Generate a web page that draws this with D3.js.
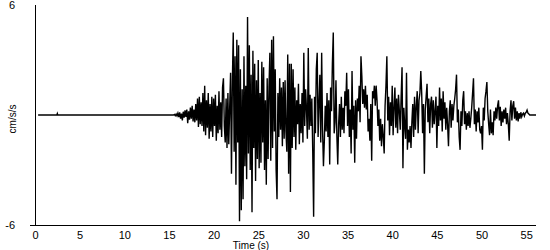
<!DOCTYPE html>
<html>
<head>
<meta charset="utf-8">
<script src="https://cdn.jsdelivr.net/npm/d3@7"></script>
<style>
  body { margin: 0; background: #fff; }
  text { font-family: Arial, "Liberation Sans", sans-serif; fill: #000; }
</style>
</head>
<body>
<div class="canvas"></div>
<script>
// quiet part of the record before the shaking starts
const quietTime = [0.35, 2.45, 2.5, 2.55, 15.4];
const quietAccel = [0, 0, 0.08, 0, 0];

// strong motion, one value every dt seconds from t0
const t0 = 15.5;
const dt = 0.1;
const accel = [
  0, 0.03, -0.04, 0.05, -0.05,
  0.1, -0.12, 0.15, -0.2, 0.08, -0.3, 0.18, -0.15, 0.25, -0.1,
  0.3, -0.45, 0.2, -0.25, 0.4, -0.2, 0.5, -0.35, 0.3, -0.4,
  0.6, -0.3, 0.9, -0.65, 1.0, -0.5, 0.7, -0.6, 1.2, -0.9,
  1.6, -1.1, 0.8, -0.7, 1.2, -1.3, 0.6, -0.9, 1.0, -1.2,
  0.9, -0.6, 1.1, -1.4, 0.5, -1.0, 1.3, -0.8, 0.7, -1.2,
  1.5, 2.0, -0.6, -1.5, 0.9, -1.8, 1.2, -1.6, 0.4, 2.3,
  -3.2, 1.8, 4.5, -2.0, 3.2, -3.8, 4.1, -1.5, 3.8, -5.8,
  2.5, -5.2, 1.4, -4.6, 3.2, -2.8, 1.6, -3.5, 5.35, -2.1,
  3.8, -3.0, 2.2, -5.3, 3.5, -1.8, 2.8, -3.6, 1.9, -2.4,
  3.0, -2.9, 1.2, -2.6, 2.9, -1.5, 2.6, -3.0, 0.8, -3.8,
  2.0, -2.4, 1.5, 3.4, -2.5, 4.1, -1.8, 4.3, -0.9, 2.5,
  -3.0, -4.6, 1.2, -1.2, 2.0, -0.8, 1.5, -1.7, 1.8, -1.3,
  1.9, -0.9, -2.0, 3.3, -3.2, 2.8, -4.2, 2.8, -1.8, 2.5,
  -1.2, 1.5, -1.9, 0.8, -0.5, 1.7, -1.6, 0.6, -1.0, 1.2,
  -1.5, 3.4, -0.6, 1.4, 0.3, -1.3, 3.65, -0.8, 1.1, -0.6,
  0.9, -2.0, -5.55, 1.0, -1.0, 2.5, 3.4, -1.2, 0.6, 2.2,
  -1.5, 3.4, -0.8, -2.8, -1.4, 0.5, -0.9, 1.2, -1.2, 0.8,
  -2.7, 1.5, 0.2, 2.8, 4.5, -1.0, -0.4, 1.9, -1.1, -2.7,
  -0.5, 0.6, -1.2, 1.0, -0.8, 0.4, -1.0, 1.3, 0.5, 2.3,
  -0.6, 1.4, -1.2, 0.3, -2.1, 2.4, -0.8, 0.5, -2.6, 0.8,
  -1.3, 0.9, 0.2, 1.6, -0.4, 3.2, 2.1, 0.6, 1.4, 0.4,
  1.6, 0.3, 1.1, -0.9, -0.2, -1.4, 0.6, -2.5, 1.3, 0.9,
  1.6, 0.5, 1.6, 0.8, -0.6, 0.3, -1.4, -0.2, -1.7, -0.5,
  -1.2, -2.1, 0.5, 1.6, 3.2, -0.3, 1.0, -1.1, 0.7, -0.6,
  1.6, -1.1, 0.4, 1.5, -0.7, 0.9, -1.0, 1.1, 0.2, -0.8,
  1.0, 2.6, -2.9, 0.4, -0.6, -1.3, 2.3, -1.9, -0.8, -1.5,
  -0.6, -1.8, -0.4, 0.6, -1.2, 1.0, -0.8, 0.5, 1.3, -1.0,
  0.8, 1.2, 2.4, 1.2, -1.0, 0.6, -3.2, 0.3, 1.0, 1.7,
  -0.4, 0.9, -1.0, 0.6, 1.0, -0.7, 0.8, -0.5, 0.2, 1.0,
  -1.8, 0.5, -0.6, 1.5, -0.3, 0.9, -0.9, 1.3, -0.2, 0.7,
  -0.8, 0.4, -0.5, -1.7, 0.2, 0.8, -0.7, 0.6, -0.3, 0.5,
  0.9, 1.4, 2.2, -0.4, 0.3, -1.2, -1.9, 0.2, -0.6, 0.8,
  1.3, -0.5, 0.2, -0.8, 0.1, -0.6, 0.2, -0.7, -0.2, 0.4,
  1.2, 2.0, -0.5, 0.3, -0.9, 0.2, -0.4, 0.4, -0.8, -1.0,
  -0.6, -1.9, 0.4, -0.3, 0.9, 1.3, 1.8, 0.2, -0.5, -1.1,
  0.3, -1.0, -0.4, -1.1, 0.2, -0.3, 0.4, -0.2, 0.5, 0.8,
  -0.3, 0.45, -0.6, 0.2, -0.4, 0.3, -0.2, 0.4, -0.5, 0.1,
  -0.5, -1.4, 0.2, 0.8, -0.3, 0.5, 0.75, -0.2, 0.4, -0.3,
  0.2, -0.35, 0.1, -0.2, 0.15, -0.1, 0.05, 0.1, -0.05, 0.1,
  0.15, 0.27, 0.1, 0.05, 0, 0, 0, 0, 0, 0, 0, 0
];

const xTicks = [0, 5, 10, 15, 20, 25, 30, 35, 40, 45, 50, 55];
const yTicks = [-6, 6];

const dims = { width: 550, height: 250 };

const svg = d3.select('.canvas')
  .append('svg')
  .attr('width', dims.width)
  .attr('height', dims.height);

const x = d3.scaleLinear().domain([0, 56.1]).range([35, 536]);
const y = d3.scaleLinear().domain([-6, 6]).range([225, 5]);

const points = quietTime.map((t, i) => [t, quietAccel[i]])
  .concat(accel.map((a, i) => [t0 + i * dt, a]));

svg.append('path')
  .datum(points)
  .attr('fill', 'none')
  .attr('stroke', '#000')
  .attr('stroke-width', 1.4)
  .attr('d', d3.line().x(d => x(d[0])).y(d => y(d[1])));

// axes
svg.append('g')
  .attr('transform', `translate(0, ${y(-6)})`)
  .call(d3.axisBottom(x).tickValues(xTicks).tickSize(0).tickPadding(6));

svg.append('g')
  .attr('transform', `translate(${x(0)}, 0)`)
  .call(d3.axisLeft(y).tickValues(yTicks).tickFormat(d => String(d)).tickSize(0).tickPadding(20));

svg.selectAll('.domain').remove();
svg.selectAll('.tick text')
  .attr('font-family', 'Arial, "Liberation Sans", sans-serif')
  .attr('font-size', 11);

svg.append('line')
  .attr('x1', x(0) - 5).attr('x2', x(56.1))
  .attr('y1', y(-6) + 0.5).attr('y2', y(-6) + 0.5)
  .attr('stroke', '#000');

svg.append('line')
  .attr('x1', x(0) + 0.5).attr('x2', x(0) + 0.5)
  .attr('y1', y(6)).attr('y2', y(-6))
  .attr('stroke', '#000');

svg.append('text')
  .attr('x', 251)
  .attr('y', 249)
  .attr('text-anchor', 'middle')
  .attr('font-size', 10)
  .text('Time (s)');

svg.append('text')
  .attr('transform', 'translate(15.5, 119) rotate(-90)')
  .attr('text-anchor', 'middle')
  .attr('font-size', 10)
  .text('cm/s/s');
</script>
</body>
</html>
